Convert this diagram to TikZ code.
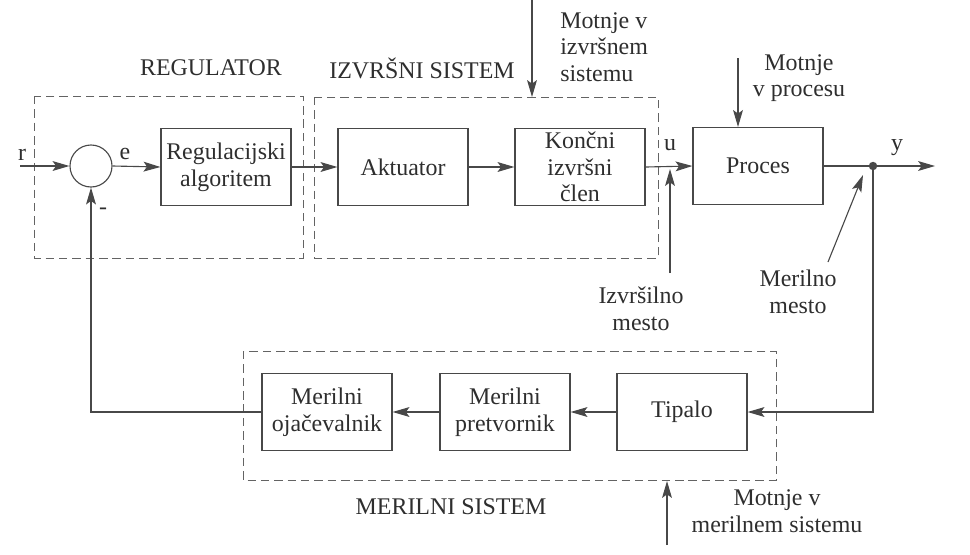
\documentclass[tikz,border=0pt]{standalone}
\usepackage{fontspec}
\setmainfont{Liberation Serif}
\usetikzlibrary{arrows.meta, calc}

\definecolor{linecol}{HTML}{484848}
\definecolor{textcol}{HTML}{2E2E2E}

\tikzset{
    blok/.style = {draw = linecol, line width = 0.8pt, minimum width = 3.25cm, minimum height = 1.925cm, align = center, text = textcol, inner sep = 1pt},
    okvir/.style = {draw = linecol!85, line width = 0.6pt, dash pattern = on 6pt off 3.5pt},
    signal/.style = {draw = linecol, line width = 0.8pt, -{Stealth[length = 12pt, width = 7pt, inset = 2.5pt]}},
    napis/.style = {text = textcol, inner sep = 0pt}
}

\begin{document}
\begin{tikzpicture}[x = 0.025cm, y = -0.025cm, font = \fontsize{17}{19}\selectfont]
            \useasboundingbox (0, 0) rectangle (970, 554);

            \coordinate (r_in) at (20, 166);
            \coordinate (y_out) at (935, 166);
            \coordinate (motnje_izv) at (532, 0);
            \coordinate (motnje_proc) at (738, 58);
            \coordinate (motnje_mer) at (667, 545);
            \coordinate (izv_mesto) at (670, 273);
            \coordinate (izv_tocka) at (670, 169);
            \coordinate (mer_mesto) at (828, 262);
            \coordinate (mer_tocka) at (863, 175);

            \draw[okvir](34, 96) rectangle (303, 258);
            \draw[okvir](314, 97) rectangle (658, 258);
            \draw[okvir](243, 351) rectangle (776, 480);

            \node[draw = linecol, line width = 0.8pt, circle, minimum size = 1.05cm, inner sep = 0pt] (sum) at (91, 166) {};
            \node[blok] (reg_alg) at (226, 167) {Regulacijski\\algoritem};
            \node[blok] (aktuator) at (403, 167) {Aktuator};
            \node[blok] (koncni) at (580, 167) {Končni\\izvršni\\člen};
            \node[blok] (proces) at (758, 166) {Proces};
            \node[blok] (tipalo) at (682, 412) {Tipalo};
            \node[blok] (pretvornik) at (505, 412) {Merilni\\pretvornik};
            \node[blok] (ojacevalnik) at (327, 412) {Merilni\\ojačevalnik};
            \node[circle, fill = linecol, inner sep = 0pt, minimum size = 6pt] (tocka) at (873, 166) {};

            \draw[signal](r_in) -- (sum.west);
            \draw[signal](sum.east) -- (reg_alg.west);
            \draw[signal](reg_alg.east) -- (aktuator.west);
            \draw[signal](aktuator.east) -- (koncni.west);
            \draw[signal](koncni.east) -- (proces.west);
            \draw[signal](proces.east) -- (tocka.center) -- (y_out);
            \draw[signal](tocka.center) |- (tipalo.east);
            \draw[signal](tipalo.west) -- (pretvornik.east);
            \draw[signal](pretvornik.west) -- (ojacevalnik.east);
            \draw[signal](ojacevalnik.west) -| (sum.south);

            \draw[signal](motnje_izv) -- (motnje_izv |- 0, 97);
            \draw[signal](motnje_proc) -- (motnje_proc |- proces.north);
            \draw[signal](motnje_mer) -- (motnje_mer |- 0, 481);
            \draw[signal](izv_mesto) -- (izv_tocka);
            \draw[signal](mer_mesto) -- (mer_tocka);

            \node[napis] (lbl_r) at (22, 155) {r};
            \node[napis] (lbl_e) at (125, 154) {e};
            \node[napis] (lbl_minus) at (103, 211) {-};
            \node[napis] (lbl_u) at (670, 145) {u};
            \node[napis] (lbl_y) at (897, 148) {y};

            \node[napis] (lbl_reg) at (211, 68) {REGULATOR};
            \node[napis] (lbl_izv) at (422, 68) {IZVRŠNI SISTEM};
            \node[napis] (lbl_mer) at (451, 507) {MERILNI SISTEM};

            \node[napis, align = left, anchor = west] (lbl_motnje_izv) at (560, 47) {Motnje v\\izvršnem\\sistemu};
            \node[napis, align = center] (lbl_motnje_proc) at (799, 78) {Motnje\\v procesu};
            \node[napis, align = center] (lbl_motnje_mer) at (777, 511) {Motnje v\\merilnem sistemu};
            \node[napis, align = center] (lbl_izv_mesto) at (641, 309) {Izvršilno\\mesto};
            \node[napis, align = center] (lbl_mer_mesto) at (798, 292) {Merilno\\mesto};
        \end{tikzpicture}
\end{document}
